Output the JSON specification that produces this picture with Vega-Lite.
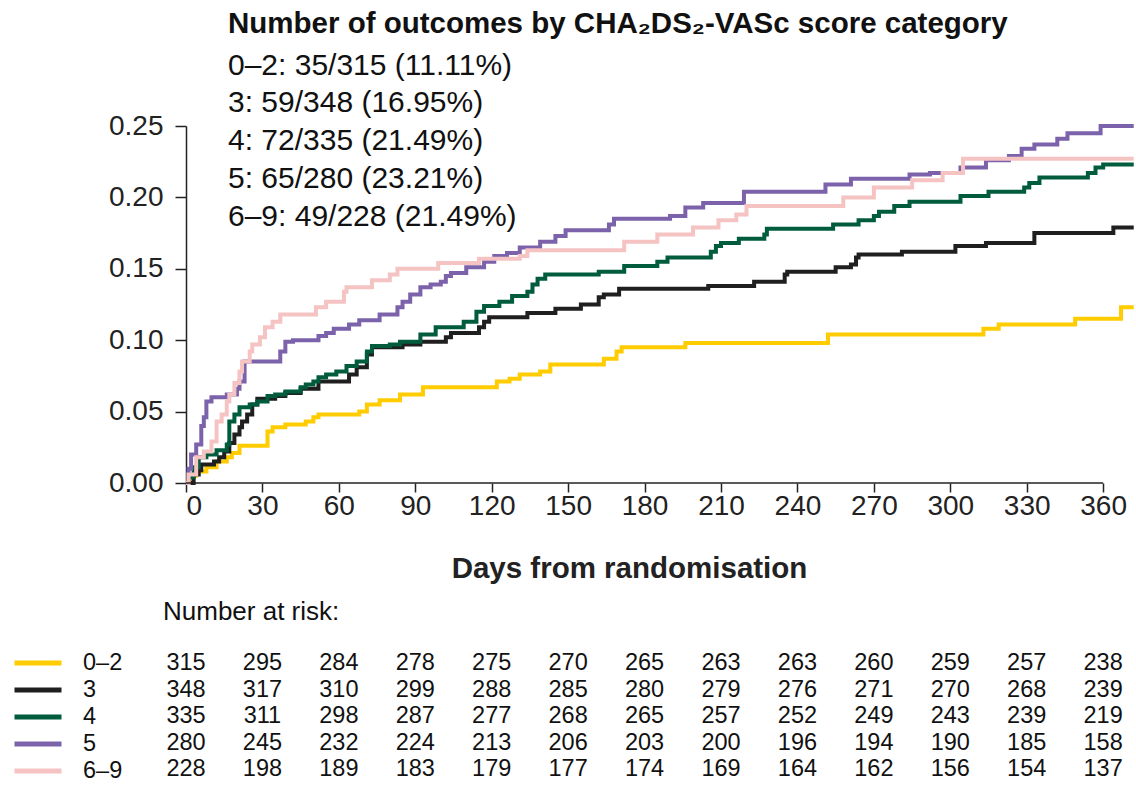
{
  "$schema": "https://vega.github.io/schema/vega-lite/v6.json",
  "autosize": {"type": "pad"},
  "padding": {"left": 12, "top": 8, "right": 0, "bottom": 0},
  "background": "white",
  "config": {
    "font": "Liberation Sans",
    "view": {"stroke": null},
    "axis": {"domainColor": "#222", "tickColor": "#222", "labelColor": "#222", "titleColor": "#222", "grid": false, "domainWidth": 1.5, "tickWidth": 1.5}
  },
  "datasets": {
    "km": [
      {"g":"0–2","d":0,"v":0},{"g":"0–2","d":2,"v":0.005},{"g":"0–2","d":4,"v":0.008},{"g":"0–2","d":8,"v":0.011},{"g":"0–2","d":12,"v":0.015},{"g":"0–2","d":16,"v":0.018},{"g":"0–2","d":18,"v":0.021},{"g":"0–2","d":21,"v":0.026},{"g":"0–2","d":32,"v":0.036},{"g":"0–2","d":34,"v":0.039},{"g":"0–2","d":39,"v":0.041},{"g":"0–2","d":47,"v":0.043},{"g":"0–2","d":50,"v":0.046},{"g":"0–2","d":52,"v":0.048},{"g":"0–2","d":68,"v":0.050},{"g":"0–2","d":71,"v":0.055},{"g":"0–2","d":76,"v":0.058},{"g":"0–2","d":84,"v":0.062},{"g":"0–2","d":93,"v":0.067},{"g":"0–2","d":122,"v":0.071},{"g":"0–2","d":127,"v":0.073},{"g":"0–2","d":131,"v":0.076},{"g":"0–2","d":139,"v":0.078},{"g":"0–2","d":143,"v":0.083},{"g":"0–2","d":164,"v":0.087},{"g":"0–2","d":169,"v":0.092},{"g":"0–2","d":171,"v":0.095},{"g":"0–2","d":196,"v":0.098},{"g":"0–2","d":252,"v":0.104},{"g":"0–2","d":313,"v":0.108},{"g":"0–2","d":319,"v":0.111},{"g":"0–2","d":349,"v":0.115},{"g":"0–2","d":367,"v":0.123},{"g":"0–2","d":372,"v":0.123},
      {"g":"3","d":0,"v":0},{"g":"3","d":3,"v":0.006},{"g":"3","d":5,"v":0.009},{"g":"3","d":6,"v":0.013},{"g":"3","d":11,"v":0.015},{"g":"3","d":13,"v":0.018},{"g":"3","d":15,"v":0.022},{"g":"3","d":17,"v":0.028},{"g":"3","d":19,"v":0.034},{"g":"3","d":21,"v":0.039},{"g":"3","d":22,"v":0.043},{"g":"3","d":24,"v":0.048},{"g":"3","d":26,"v":0.055},{"g":"3","d":28,"v":0.059},{"g":"3","d":35,"v":0.061},{"g":"3","d":39,"v":0.063},{"g":"3","d":45,"v":0.066},{"g":"3","d":52,"v":0.071},{"g":"3","d":64,"v":0.076},{"g":"3","d":67,"v":0.081},{"g":"3","d":71,"v":0.090},{"g":"3","d":73,"v":0.095},{"g":"3","d":85,"v":0.097},{"g":"3","d":92,"v":0.099},{"g":"3","d":102,"v":0.102},{"g":"3","d":104,"v":0.105},{"g":"3","d":115,"v":0.109},{"g":"3","d":117,"v":0.113},{"g":"3","d":119,"v":0.116},{"g":"3","d":134,"v":0.119},{"g":"3","d":145,"v":0.122},{"g":"3","d":155,"v":0.125},{"g":"3","d":162,"v":0.130},{"g":"3","d":164,"v":0.132},{"g":"3","d":170,"v":0.136},{"g":"3","d":205,"v":0.138},{"g":"3","d":223,"v":0.141},{"g":"3","d":235,"v":0.146},{"g":"3","d":236,"v":0.148},{"g":"3","d":255,"v":0.151},{"g":"3","d":261,"v":0.153},{"g":"3","d":263,"v":0.158},{"g":"3","d":264,"v":0.160},{"g":"3","d":281,"v":0.162},{"g":"3","d":302,"v":0.166},{"g":"3","d":314,"v":0.168},{"g":"3","d":333,"v":0.175},{"g":"3","d":364,"v":0.179},{"g":"3","d":372,"v":0.179},
      {"g":"4","d":0,"v":0},{"g":"4","d":1,"v":0.004},{"g":"4","d":3,"v":0.011},{"g":"4","d":5,"v":0.018},{"g":"4","d":8,"v":0.020},{"g":"4","d":12,"v":0.023},{"g":"4","d":16,"v":0.027},{"g":"4","d":17,"v":0.043},{"g":"4","d":19,"v":0.048},{"g":"4","d":21,"v":0.053},{"g":"4","d":25,"v":0.055},{"g":"4","d":28,"v":0.057},{"g":"4","d":32,"v":0.061},{"g":"4","d":35,"v":0.062},{"g":"4","d":39,"v":0.064},{"g":"4","d":45,"v":0.067},{"g":"4","d":47,"v":0.069},{"g":"4","d":50,"v":0.071},{"g":"4","d":52,"v":0.074},{"g":"4","d":55,"v":0.076},{"g":"4","d":59,"v":0.078},{"g":"4","d":63,"v":0.082},{"g":"4","d":67,"v":0.085},{"g":"4","d":71,"v":0.092},{"g":"4","d":73,"v":0.096},{"g":"4","d":80,"v":0.097},{"g":"4","d":84,"v":0.099},{"g":"4","d":92,"v":0.104},{"g":"4","d":98,"v":0.109},{"g":"4","d":109,"v":0.113},{"g":"4","d":114,"v":0.120},{"g":"4","d":117,"v":0.124},{"g":"4","d":123,"v":0.127},{"g":"4","d":128,"v":0.131},{"g":"4","d":134,"v":0.134},{"g":"4","d":136,"v":0.139},{"g":"4","d":138,"v":0.143},{"g":"4","d":141,"v":0.146},{"g":"4","d":162,"v":0.148},{"g":"4","d":172,"v":0.152},{"g":"4","d":185,"v":0.155},{"g":"4","d":189,"v":0.158},{"g":"4","d":206,"v":0.162},{"g":"4","d":208,"v":0.166},{"g":"4","d":210,"v":0.168},{"g":"4","d":217,"v":0.171},{"g":"4","d":227,"v":0.174},{"g":"4","d":228,"v":0.178},{"g":"4","d":254,"v":0.181},{"g":"4","d":264,"v":0.184},{"g":"4","d":270,"v":0.187},{"g":"4","d":272,"v":0.190},{"g":"4","d":278,"v":0.194},{"g":"4","d":284,"v":0.197},{"g":"4","d":304,"v":0.201},{"g":"4","d":315,"v":0.204},{"g":"4","d":329,"v":0.207},{"g":"4","d":331,"v":0.210},{"g":"4","d":335,"v":0.214},{"g":"4","d":354,"v":0.217},{"g":"4","d":357,"v":0.221},{"g":"4","d":360,"v":0.223},{"g":"4","d":372,"v":0.223},
      {"g":"5","d":0,"v":0},{"g":"5","d":1,"v":0.010},{"g":"5","d":2,"v":0.020},{"g":"5","d":4,"v":0.027},{"g":"5","d":6,"v":0.040},{"g":"5","d":7,"v":0.046},{"g":"5","d":8,"v":0.057},{"g":"5","d":10,"v":0.060},{"g":"5","d":16,"v":0.062},{"g":"5","d":20,"v":0.066},{"g":"5","d":21,"v":0.071},{"g":"5","d":23,"v":0.085},{"g":"5","d":37,"v":0.092},{"g":"5","d":39,"v":0.099},{"g":"5","d":42,"v":0.100},{"g":"5","d":52,"v":0.103},{"g":"5","d":55,"v":0.105},{"g":"5","d":58,"v":0.108},{"g":"5","d":64,"v":0.111},{"g":"5","d":68,"v":0.114},{"g":"5","d":76,"v":0.118},{"g":"5","d":83,"v":0.123},{"g":"5","d":85,"v":0.127},{"g":"5","d":88,"v":0.132},{"g":"5","d":92,"v":0.137},{"g":"5","d":96,"v":0.139},{"g":"5","d":100,"v":0.141},{"g":"5","d":102,"v":0.145},{"g":"5","d":104,"v":0.147},{"g":"5","d":110,"v":0.151},{"g":"5","d":117,"v":0.155},{"g":"5","d":121,"v":0.159},{"g":"5","d":126,"v":0.161},{"g":"5","d":131,"v":0.165},{"g":"5","d":139,"v":0.169},{"g":"5","d":145,"v":0.173},{"g":"5","d":149,"v":0.177},{"g":"5","d":166,"v":0.181},{"g":"5","d":168,"v":0.185},{"g":"5","d":190,"v":0.187},{"g":"5","d":196,"v":0.193},{"g":"5","d":203,"v":0.196},{"g":"5","d":219,"v":0.204},{"g":"5","d":251,"v":0.209},{"g":"5","d":261,"v":0.213},{"g":"5","d":284,"v":0.216},{"g":"5","d":292,"v":0.217},{"g":"5","d":304,"v":0.221},{"g":"5","d":314,"v":0.226},{"g":"5","d":323,"v":0.229},{"g":"5","d":328,"v":0.234},{"g":"5","d":333,"v":0.237},{"g":"5","d":342,"v":0.241},{"g":"5","d":346,"v":0.245},{"g":"5","d":359,"v":0.250},{"g":"5","d":372,"v":0.250},
      {"g":"6–9","d":0,"v":0},{"g":"6–9","d":1,"v":0.006},{"g":"6–9","d":4,"v":0.018},{"g":"6–9","d":7,"v":0.022},{"g":"6–9","d":10,"v":0.029},{"g":"6–9","d":12,"v":0.043},{"g":"6–9","d":14,"v":0.048},{"g":"6–9","d":16,"v":0.057},{"g":"6–9","d":17,"v":0.062},{"g":"6–9","d":19,"v":0.070},{"g":"6–9","d":21,"v":0.078},{"g":"6–9","d":22,"v":0.085},{"g":"6–9","d":25,"v":0.092},{"g":"6–9","d":26,"v":0.097},{"g":"6–9","d":29,"v":0.102},{"g":"6–9","d":31,"v":0.109},{"g":"6–9","d":34,"v":0.113},{"g":"6–9","d":37,"v":0.118},{"g":"6–9","d":51,"v":0.123},{"g":"6–9","d":55,"v":0.127},{"g":"6–9","d":62,"v":0.134},{"g":"6–9","d":63,"v":0.137},{"g":"6–9","d":73,"v":0.142},{"g":"6–9","d":80,"v":0.146},{"g":"6–9","d":83,"v":0.150},{"g":"6–9","d":99,"v":0.154},{"g":"6–9","d":115,"v":0.157},{"g":"6–9","d":131,"v":0.159},{"g":"6–9","d":134,"v":0.163},{"g":"6–9","d":172,"v":0.169},{"g":"6–9","d":185,"v":0.174},{"g":"6–9","d":199,"v":0.179},{"g":"6–9","d":209,"v":0.184},{"g":"6–9","d":216,"v":0.188},{"g":"6–9","d":220,"v":0.194},{"g":"6–9","d":258,"v":0.200},{"g":"6–9","d":270,"v":0.207},{"g":"6–9","d":285,"v":0.212},{"g":"6–9","d":297,"v":0.217},{"g":"6–9","d":305,"v":0.227},{"g":"6–9","d":372,"v":0.227}
    ],
    "risk": [
      {"g":"0–2","d":0,"n":315},{"g":"0–2","d":30,"n":295},{"g":"0–2","d":60,"n":284},{"g":"0–2","d":90,"n":278},{"g":"0–2","d":120,"n":275},{"g":"0–2","d":150,"n":270},{"g":"0–2","d":180,"n":265},{"g":"0–2","d":210,"n":263},{"g":"0–2","d":240,"n":263},{"g":"0–2","d":270,"n":260},{"g":"0–2","d":300,"n":259},{"g":"0–2","d":330,"n":257},{"g":"0–2","d":360,"n":238},
      {"g":"3","d":0,"n":348},{"g":"3","d":30,"n":317},{"g":"3","d":60,"n":310},{"g":"3","d":90,"n":299},{"g":"3","d":120,"n":288},{"g":"3","d":150,"n":285},{"g":"3","d":180,"n":280},{"g":"3","d":210,"n":279},{"g":"3","d":240,"n":276},{"g":"3","d":270,"n":271},{"g":"3","d":300,"n":270},{"g":"3","d":330,"n":268},{"g":"3","d":360,"n":239},
      {"g":"4","d":0,"n":335},{"g":"4","d":30,"n":311},{"g":"4","d":60,"n":298},{"g":"4","d":90,"n":287},{"g":"4","d":120,"n":277},{"g":"4","d":150,"n":268},{"g":"4","d":180,"n":265},{"g":"4","d":210,"n":257},{"g":"4","d":240,"n":252},{"g":"4","d":270,"n":249},{"g":"4","d":300,"n":243},{"g":"4","d":330,"n":239},{"g":"4","d":360,"n":219},
      {"g":"5","d":0,"n":280},{"g":"5","d":30,"n":245},{"g":"5","d":60,"n":232},{"g":"5","d":90,"n":224},{"g":"5","d":120,"n":213},{"g":"5","d":150,"n":206},{"g":"5","d":180,"n":203},{"g":"5","d":210,"n":200},{"g":"5","d":240,"n":196},{"g":"5","d":270,"n":194},{"g":"5","d":300,"n":190},{"g":"5","d":330,"n":185},{"g":"5","d":360,"n":158},
      {"g":"6–9","d":0,"n":228},{"g":"6–9","d":30,"n":198},{"g":"6–9","d":60,"n":189},{"g":"6–9","d":90,"n":183},{"g":"6–9","d":120,"n":179},{"g":"6–9","d":150,"n":177},{"g":"6–9","d":180,"n":174},{"g":"6–9","d":210,"n":169},{"g":"6–9","d":240,"n":164},{"g":"6–9","d":270,"n":162},{"g":"6–9","d":300,"n":156},{"g":"6–9","d":330,"n":154},{"g":"6–9","d":360,"n":137}
    ],
    "xline": [{"x": 0, "x2": 360}]
  },
  "bounds": "flush",
  "spacing": 166.75,
  "vconcat": [
    {
      "width": 949,
      "height": 357,
      "title": {
        "text": "Number of outcomes by CHA₂DS₂-VASc score category",
        "subtitle": ["0–2: 35/315 (11.11%)", "3: 59/348 (16.95%)", "4: 72/335 (21.49%)", "5: 65/280 (23.21%)", "6–9: 49/228 (21.49%)"],
        "anchor": "start",
        "frame": "group",
        "dx": 42,
        "offset": -120.5,
        "font": "Liberation Sans",
        "fontSize": 29.5,
        "fontWeight": "bold",
        "color": "#111",
        "subtitleFont": "Liberation Sans",
        "subtitleFontSize": 30,
        "subtitleColor": "#111",
        "subtitleLineHeight": 37.75,
        "subtitlePadding": 11.5
      },
      "layer": [
        {
          "data": {"name": "km"},
          "mark": {"type": "line", "interpolate": "step-after", "strokeWidth": 4},
          "encoding": {
            "x": {"field": "d", "type": "quantitative", "scale": {"domain": [0, 372.5], "nice": false},
              "axis": {"values": [0, 30, 60, 90, 120, 150, 180, 210, 240, 270, 300, 330, 360], "domain": false, "tickSize": 9, "labelPadding": 0, "labelFontSize": 28, "labelFont": "Liberation Sans", "title": "Days from randomisation", "titleFontSize": 29.5, "titleFontWeight": "bold", "titleX": 443, "titleY": 85, "titleBaseline": "middle", "titleAnchor": "middle"}},
            "y": {"field": "v", "type": "quantitative", "scale": {"domain": [0, 0.25], "nice": false},
              "axis": {"values": [0, 0.05, 0.1, 0.15, 0.2, 0.25], "format": ".2f", "tickSize": 11, "labelPadding": 12, "labelFontSize": 28, "labelFont": "Liberation Sans", "title": null}},
            "color": {"field": "g", "type": "nominal",
              "scale": {"domain": ["0–2", "3", "4", "5", "6–9"], "range": ["#FFCC00", "#1F1F1F", "#005C3C", "#7B62AB", "#F6C3C3"]},
              "legend": {"orient": "none", "legendX": -174, "legendY": 523.75, "title": null, "symbolType": "stroke", "symbolStrokeWidth": 5, "symbolSize": 2209, "labelFontSize": 23.5, "labelFont": "Liberation Sans", "labelColor": "#111", "labelOffset": 19, "clipHeight": 26.5, "rowPadding": 0, "padding": 0, "labelLimit": 300}}
          }
        },
        {
          "data": {"name": "xline"},
          "mark": {"type": "rule", "color": "#222", "strokeWidth": 1.5},
          "encoding": {
            "x": {"field": "x", "type": "quantitative"},
            "x2": {"field": "x2"},
            "y": {"datum": 0}
          }
        }
      ]
    },
    {
      "width": 949,
      "height": 132.5,
      "title": {"text": "Number at risk:", "anchor": "start", "frame": "group", "dx": -23, "offset": 24.5, "font": "Liberation Sans", "fontSize": 26, "fontWeight": "normal", "color": "#111"},
      "data": {"name": "risk"},
      "mark": {"type": "text", "fontSize": 23.5, "font": "Liberation Sans", "color": "#111"},
      "encoding": {
        "x": {"field": "d", "type": "quantitative", "scale": {"domain": [0, 372.5], "nice": false}, "axis": null},
        "y": {"field": "g", "type": "nominal", "sort": ["0–2", "3", "4", "5", "6–9"], "scale": {"paddingInner": 0, "paddingOuter": 0}, "axis": null},
        "text": {"field": "n", "type": "quantitative"}
      }
    }
  ]
}
